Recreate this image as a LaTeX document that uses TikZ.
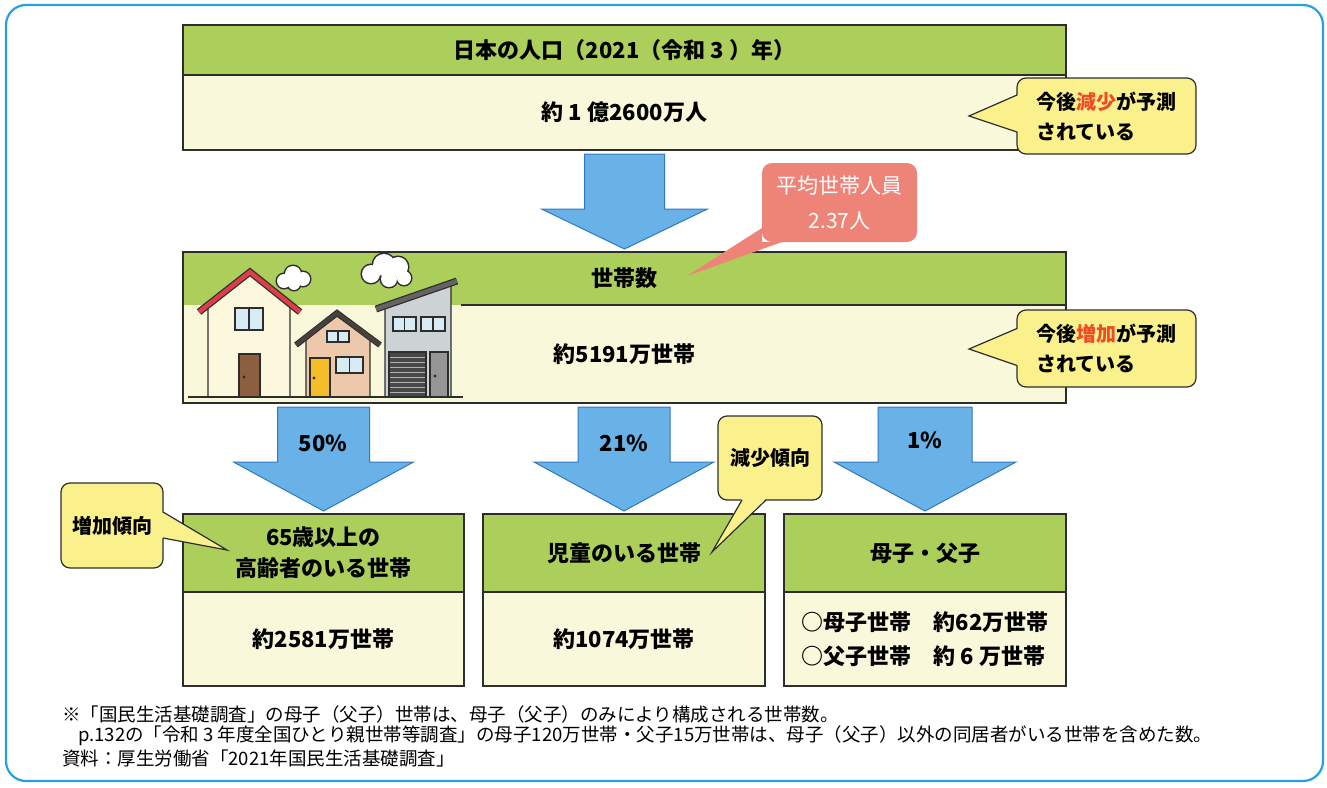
\documentclass[tikz,border=0pt]{standalone}
\usepackage{fontspec}
\setmainfont{Noto Sans CJK JP}
\usetikzlibrary{positioning,calc}

\definecolor{hdrgreen}{RGB}{172,207,92}
\definecolor{bodycream}{RGB}{250,248,218}
\definecolor{arrowblue}{RGB}{104,178,232}
\definecolor{arrowline}{RGB}{50,120,190}
\definecolor{noteyellow}{RGB}{250,240,140}
\definecolor{notepink}{RGB}{238,132,120}
\definecolor{hotred}{RGB}{240,75,40}
\definecolor{frameblue}{RGB}{40,160,220}
\definecolor{boxline}{RGB}{45,45,45}
\definecolor{housecream}{RGB}{252,248,222}
\definecolor{housepink}{RGB}{238,200,170}
\definecolor{housegray}{RGB}{205,210,212}
\definecolor{roofred}{RGB}{222,62,72}
\definecolor{roofdark}{RGB}{72,64,60}
\definecolor{roofgray}{RGB}{100,100,100}
\definecolor{glassblue}{RGB}{215,235,245}
\definecolor{doorbrown}{RGB}{140,95,65}
\definecolor{dooryellow}{RGB}{245,190,40}
\definecolor{doorgray}{RGB}{150,150,150}
\definecolor{garagegray}{RGB}{72,72,72}

\tikzset{
  hdr/.style={draw=boxline, fill=hdrgreen, line width=1.3pt, outer sep=0pt, inner sep=0pt,
    align=center, font=\bfseries\fontsize{22}{31}\selectfont},
  body/.style={draw=boxline, fill=bodycream, line width=1.3pt, outer sep=0pt, inner sep=0pt,
    align=left, font=\bfseries\fontsize{22}{34}\selectfont},
  bigarrow/.style={draw=arrowline, fill=arrowblue, line width=1pt, line join=miter},
  pct/.style={font=\bfseries\fontsize{22}{26}\selectfont},
  note/.style={draw=boxline, fill=noteyellow, line width=1.2pt, rounded corners=9pt,
    outer sep=0pt, inner sep=0pt, align=left, font=\bfseries\fontsize{20}{30}\selectfont},
  pinknote/.style={fill=notepink, rounded corners=10pt, outer sep=0pt, inner sep=0pt,
    align=center, text=white, font=\fontsize{21}{35}\selectfont},
  tail/.style={draw=boxline, line width=1.2pt, line join=miter},
  foot/.style={anchor=west, inner sep=0pt, font=\fontsize{18.5}{22}\selectfont}
}

% block arrow: from, to, shaft half width, head half width, head length
\newcommand{\bluearrow}[5]{%
  \draw[bigarrow] let \p1=(#1), \p2=(#2) in
    (\x2-#3,\y1-4) -- (\x2+#3,\y1-4) -- (\x2+#3,\y2+#5) -- (\x2+#4,\y2+#5)
    -- (\x2,\y2+3) -- (\x2-#4,\y2+#5) -- (\x2-#3,\y2+#5) -- cycle;}

\begin{document}
\begin{tikzpicture}[x=1pt, y=-1pt]
    \useasboundingbox (0,0) rectangle (1327,787);
    \draw[frameblue, line width=2.2pt, rounded corners=20pt] (6,5) rectangle (1323,781);

    % population
    \node[hdr, minimum width=883pt, minimum height=50pt, anchor=north west] (pophead) at (183,25) {日本の人口（2021（令和 3 ）年）};
    \node[body, minimum width=883pt, minimum height=75pt, below=0pt of pophead] (pop) {約 1 億2600万人};

    % households (divider only right of the houses)
    \node[hdr, draw=none, minimum width=883pt, minimum height=53pt, anchor=north west] (hhhead) at (183,252) {世帯数};
    \node[body, draw=none, minimum width=883pt, minimum height=98pt, below=0pt of hhhead] (hh) {約5191万世帯};
    \draw[boxline, line width=1.3pt] (hhhead.north west) rectangle (hh.south east);
    \draw[boxline, line width=1.3pt] ([xshift=278pt]hh.north west) -- (hh.north east);

    \bluearrow{pop.south}{hhhead.north}{40}{83}{43}

    % houses
    \begin{scope}[line width=1.3pt, draw=boxline]
        \foreach \cx/\cy/\rr in {284/281/7, 293/274/8, 303/279/7, 294/284/6,
                                 371/274/9, 384/265/11, 398/267/10, 389/279/8, 404/278/7}
            \draw[boxline, line width=3pt] (\cx,\cy) circle[radius=\rr pt];
        \foreach \cx/\cy/\rr in {284/281/7, 293/274/8, 303/279/7, 294/284/6,
                                 371/274/9, 384/265/11, 398/267/10, 389/279/8, 404/278/7}
            \fill[white] (\cx,\cy) circle[radius=\rr pt];

        \draw[fill=housecream] (208,397) -- (208,306) -- (250,274) -- (290,306) -- (290,397);
        \draw[boxline, line width=7pt] (199,312) -- (250,272) -- (300,312);
        \draw[roofred, line width=4.5pt] (199,312) -- (250,272) -- (300,312);
        \draw[fill=glassblue] (235,308) rectangle (263,330);
        \draw (249,308) -- (249,330);
        \draw[fill=doorbrown] (239,354) rectangle (260,397);
        \fill[boxline] (244,377) circle[radius=1.6pt];

        \draw[fill=housepink] (306,397) -- (306,338) -- (337,316) -- (370,338) -- (370,397);
        \draw[boxline, line width=6pt] (296,345) -- (337,313) -- (380,345);
        \draw[roofdark, line width=4pt] (296,345) -- (337,313) -- (380,345);
        \draw[fill=glassblue] (327,331) rectangle (349,342);
        \draw (338,331) -- (338,342);
        \draw[fill=dooryellow] (310,358) rectangle (330,397);
        \fill[boxline] (314,378) circle[radius=1.6pt];
        \draw[fill=glassblue] (336,357) rectangle (363,373);
        \draw (349.5,357) -- (349.5,373);

        \draw[fill=housegray] (385,397) -- (385,306) -- (451,284) -- (451,397) -- cycle;
        \draw[boxline, line width=7pt] (376,309) -- (457,281);
        \draw[roofgray, line width=4.5pt] (376,309) -- (457,281);
        \draw[fill=glassblue] (393,317) rectangle (416,331);
        \draw (404.5,317) -- (404.5,331);
        \draw[fill=glassblue] (421,317) rectangle (445,331);
        \draw (433,317) -- (433,331);
        \draw[fill=garagegray] (389,352) rectangle (426,397);
        \foreach \gy in {357,362,...,392}
            \draw[gray!60, line width=0.6pt] (390,\gy) -- (425,\gy);
        \draw[fill=doorgray] (430,352) rectangle (448,397);
        \fill[boxline] (435,376) circle[radius=1.6pt];

        \draw[line width=2pt] (188,397) -- (463,397);
    \end{scope}

    % breakdown
    \node[hdr, minimum width=281pt, minimum height=78pt, anchor=north west] (oldhead) at (183,514) {65歳以上の\\高齢者のいる世帯};
    \node[body, minimum width=281pt, minimum height=94pt, below=0pt of oldhead] (old) {約2581万世帯};
    \node[hdr, minimum width=282pt, minimum height=78pt, anchor=north west] (kidhead) at (483,514) {児童のいる世帯};
    \node[body, minimum width=282pt, minimum height=94pt, below=0pt of kidhead] (kid) {約1074万世帯};
    \node[hdr, minimum width=282pt, minimum height=78pt, anchor=north west] (onehead) at (784,514) {母子・父子};
    \node[body, minimum width=282pt, minimum height=94pt, below=0pt of onehead] (one) {○母子世帯　約62万世帯\\○父子世帯　約 6 万世帯};

    \bluearrow{hh.south}{oldhead.north}{46}{90}{52}
    \bluearrow{hh.south}{kidhead.north}{46}{90}{52}
    \bluearrow{hh.south}{onehead.north}{47}{91}{52}

    \node[pct] (p50) at (323,443) {50\%};
    \node[pct] (p21) at (624,443) {21\%};
    \node[pct] (p1) at (925,440) {1\%};

    % callouts
    \node[note, minimum width=179pt, minimum height=76pt] (fall) at (1106.5,116) {今後{\color{hotred}減少}が予測\\されている};
    \coordinate (fallTip) at (969,116);
    \fill[noteyellow] ([yshift=21pt, xshift=1.5pt]fall.west) -- (fallTip) -- ([yshift=-16pt, xshift=1.5pt]fall.west) -- cycle;
    \draw[tail] ([yshift=21pt]fall.west) -- (fallTip) -- ([yshift=-16pt]fall.west);

    \node[note, minimum width=179pt, minimum height=77pt] (rise) at (1106.5,348.5) {今後{\color{hotred}増加}が予測\\されている};
    \coordinate (riseTip) at (969,349);
    \fill[noteyellow] ([yshift=20pt, xshift=1.5pt]rise.west) -- (riseTip) -- ([yshift=-17pt, xshift=1.5pt]rise.west) -- cycle;
    \draw[tail] ([yshift=20pt]rise.west) -- (riseTip) -- ([yshift=-17pt]rise.west);

    \node[pinknote, minimum width=155pt, minimum height=79pt] (avg) at (839.5,202.5) {平均世帯人員\\2.37人};
    \coordinate (avgTip) at (687,276);
    \fill[notepink] ([yshift=14pt]avg.south west) -- (avg.south west) -- ([xshift=20pt]avg.south west) -- (avgTip) -- cycle;

    \node[note, minimum width=102pt, minimum height=85pt, align=center] (inc) at (112,525.5) {増加傾向};
    \coordinate (incTip) at (227,550);
    \fill[noteyellow] ([yshift=13.5pt, xshift=-1.5pt]inc.east) -- (incTip) -- ([yshift=-12.5pt, xshift=-1.5pt]inc.east) -- cycle;
    \draw[tail] ([yshift=13.5pt]inc.east) -- (incTip) -- ([yshift=-12.5pt]inc.east);

    \node[note, minimum width=104pt, minimum height=84pt, align=center] (dec) at (770,458) {減少傾向};
    \coordinate (decTip) at (712,552);
    \fill[noteyellow] ([xshift=-28pt, yshift=1.5pt]dec.south) -- (decTip) -- ([xshift=-4pt, yshift=1.5pt]dec.south) -- cycle;
    \draw[tail] ([xshift=-28pt]dec.south) -- (decTip) -- ([xshift=-4pt]dec.south);

    % notes
    \node[foot] (note1) at (62,714) {※「国民生活基礎調査」の母子（父子）世帯は、母子（父子）のみにより構成される世帯数。};
    \node[foot] (note2) at (78,736) {p.132の「令和 3 年度全国ひとり親世帯等調査」の母子120万世帯・父子15万世帯は、母子（父子）以外の同居者がいる世帯を含めた数。};
    \node[foot] (src) at (62,758) {資料：厚生労働省「2021年国民生活基礎調査」};
\end{tikzpicture}
\end{document}
